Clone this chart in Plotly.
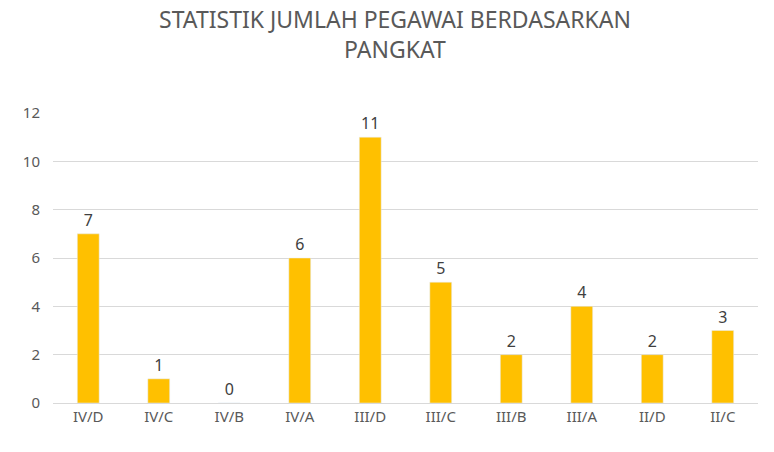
import plotly.graph_objects as go

pangkat = ['IV/D', 'IV/C', 'IV/B', 'IV/A', 'III/D', 'III/C', 'III/B', 'III/A', 'II/D', 'II/C']
jumlah = [7, 1, 0, 6, 11, 5, 2, 4, 2, 3]

fig = go.Figure(go.Bar(
    x=pangkat, y=jumlah,
    marker_color='#FFC000',
    text=jumlah, textposition='outside',
    textfont=dict(size=16, color='#404040'),
    cliponaxis=False,
))

fig.update_layout(
    width=774, height=452,
    margin=dict(l=45, r=24, t=105, b=57),
    paper_bgcolor='white', plot_bgcolor='white',
    font=dict(family='Noto Sans, sans-serif', color='#595959'),
    title=dict(text='STATISTIK JUMLAH PEGAWAI BERDASARKAN<br>PANGKAT',
               x=0.5, xanchor='center', y=0.955, yanchor='top',
               font=dict(size=23, color='#595959')),
    bargap=0.69,
    showlegend=False,
    xaxis=dict(showgrid=False, showline=True, linecolor='#D9D9D9',
               tickfont=dict(size=15), ticks=''),
    yaxis=dict(range=[0, 12], dtick=2, showgrid=True, gridcolor='#D9D9D9',
               zeroline=False, tickfont=dict(size=15), ticks='',
               ticklabelstandoff=12),
)

fig.write_html('out.html')
